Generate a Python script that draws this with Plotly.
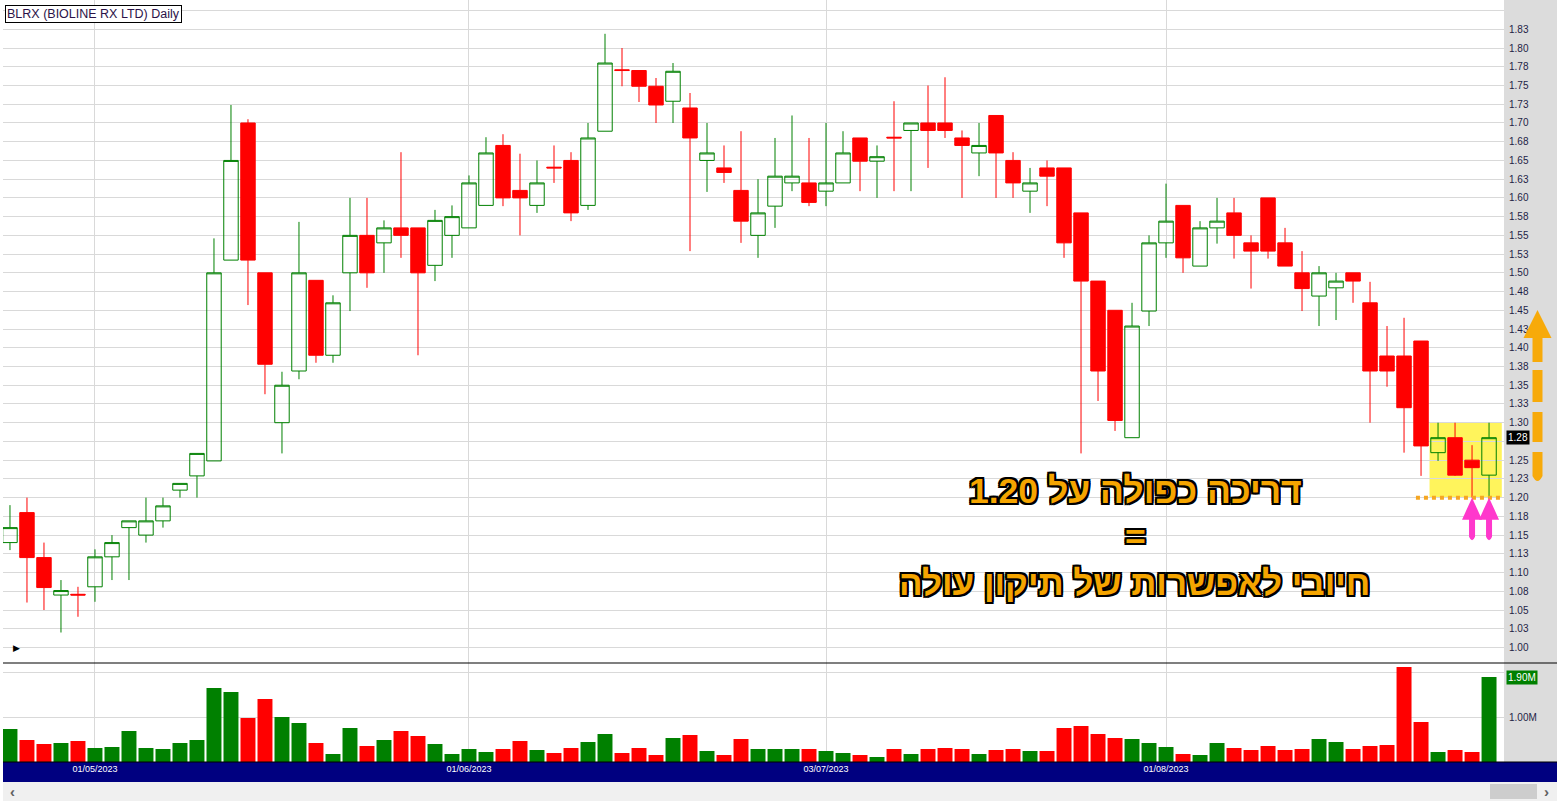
import plotly.graph_objects as go

# ---------------- data ----------------
dates = [
    "2023-04-24", "2023-04-25", "2023-04-26", "2023-04-27", "2023-04-28",
    "2023-05-01", "2023-05-02", "2023-05-03", "2023-05-04", "2023-05-05",
    "2023-05-08", "2023-05-09", "2023-05-10", "2023-05-11", "2023-05-12",
    "2023-05-15", "2023-05-16", "2023-05-17", "2023-05-18", "2023-05-19",
    "2023-05-22", "2023-05-23", "2023-05-24", "2023-05-25", "2023-05-26",
    "2023-05-30", "2023-05-31",
    "2023-06-01", "2023-06-02", "2023-06-05", "2023-06-06", "2023-06-07",
    "2023-06-08", "2023-06-09", "2023-06-12", "2023-06-13", "2023-06-14",
    "2023-06-15", "2023-06-16", "2023-06-20", "2023-06-21", "2023-06-22",
    "2023-06-23", "2023-06-26", "2023-06-27", "2023-06-28", "2023-06-29",
    "2023-06-30",
    "2023-07-03", "2023-07-05", "2023-07-06", "2023-07-07", "2023-07-10",
    "2023-07-11", "2023-07-12", "2023-07-13", "2023-07-14", "2023-07-17",
    "2023-07-18", "2023-07-19", "2023-07-20", "2023-07-21", "2023-07-24",
    "2023-07-25", "2023-07-26", "2023-07-27", "2023-07-28", "2023-07-31",
    "2023-08-01", "2023-08-02", "2023-08-03", "2023-08-04", "2023-08-07",
    "2023-08-08", "2023-08-09", "2023-08-10", "2023-08-11", "2023-08-14",
    "2023-08-15", "2023-08-16", "2023-08-17", "2023-08-18", "2023-08-21",
    "2023-08-22", "2023-08-23", "2023-08-24", "2023-08-25", "2023-08-28",
]

opens = [
    1.14, 1.18, 1.12, 1.07, 1.071, 1.081, 1.121, 1.16, 1.15, 1.169,
    1.21, 1.229, 1.249, 1.517, 1.70, 1.50, 1.30, 1.369, 1.49, 1.39,
    1.50, 1.55, 1.54, 1.56, 1.56, 1.51, 1.55, 1.56, 1.59, 1.67,
    1.61, 1.59, 1.641, 1.65, 1.59, 1.689, 1.771, 1.77, 1.749, 1.729,
    1.72, 1.65, 1.64, 1.61, 1.55, 1.589, 1.62, 1.62, 1.609, 1.62,
    1.68, 1.649, 1.681, 1.69, 1.70, 1.70, 1.68, 1.66, 1.71, 1.65,
    1.609, 1.64, 1.64, 1.58, 1.489, 1.45, 1.28, 1.449, 1.54, 1.59,
    1.509, 1.56, 1.58, 1.54, 1.60, 1.54, 1.50, 1.469, 1.48, 1.50,
    1.46, 1.389, 1.389, 1.409, 1.26, 1.28, 1.25, 1.23,
]
highs = [
    1.19, 1.20, 1.14, 1.09, 1.081, 1.131, 1.15, 1.169, 1.20, 1.20,
    1.219, 1.259, 1.546, 1.724, 1.705, 1.50, 1.368, 1.568, 1.49, 1.47,
    1.60, 1.60, 1.57, 1.661, 1.56, 1.584, 1.59, 1.63, 1.681, 1.685,
    1.659, 1.65, 1.67, 1.661, 1.70, 1.819, 1.80, 1.77, 1.76, 1.78,
    1.74, 1.70, 1.67, 1.689, 1.625, 1.68, 1.71, 1.68, 1.70, 1.689,
    1.68, 1.67, 1.729, 1.70, 1.75, 1.761, 1.69, 1.70, 1.71, 1.661,
    1.64, 1.65, 1.64, 1.58, 1.489, 1.45, 1.46, 1.55, 1.619, 1.59,
    1.569, 1.60, 1.60, 1.55, 1.60, 1.56, 1.529, 1.509, 1.50, 1.50,
    1.488, 1.429, 1.44, 1.409, 1.30, 1.30, 1.27, 1.30,
]
lows = [
    1.13, 1.06, 1.05, 1.02, 1.041, 1.061, 1.09, 1.09, 1.14, 1.16,
    1.20, 1.20, 1.249, 1.517, 1.457, 1.338, 1.259, 1.358, 1.38, 1.38,
    1.449, 1.48, 1.50, 1.52, 1.39, 1.489, 1.52, 1.56, 1.59, 1.589,
    1.55, 1.58, 1.62, 1.569, 1.584, 1.689, 1.749, 1.728, 1.70, 1.70,
    1.529, 1.608, 1.62, 1.54, 1.52, 1.56, 1.609, 1.589, 1.589, 1.62,
    1.609, 1.60, 1.609, 1.609, 1.64, 1.68, 1.60, 1.629, 1.60, 1.60,
    1.58, 1.589, 1.52, 1.259, 1.329, 1.289, 1.28, 1.429, 1.52, 1.50,
    1.509, 1.539, 1.519, 1.479, 1.519, 1.509, 1.449, 1.429, 1.437, 1.46,
    1.30, 1.348, 1.26, 1.229, 1.249, 1.229, 1.20, 1.20,
]
closes = [
    1.16, 1.12, 1.08, 1.076, 1.070, 1.121, 1.14, 1.169, 1.169, 1.189,
    1.219, 1.259, 1.50, 1.65, 1.517, 1.378, 1.35, 1.50, 1.39, 1.46,
    1.55, 1.50, 1.56, 1.55, 1.50, 1.57, 1.575, 1.62, 1.66, 1.60,
    1.60, 1.62, 1.640, 1.58, 1.68, 1.78, 1.770, 1.749, 1.724, 1.769,
    1.68, 1.66, 1.634, 1.569, 1.58, 1.629, 1.629, 1.594, 1.62, 1.66,
    1.649, 1.655, 1.680, 1.70, 1.69, 1.69, 1.67, 1.67, 1.66, 1.62,
    1.62, 1.629, 1.54, 1.489, 1.369, 1.303, 1.429, 1.54, 1.569, 1.52,
    1.56, 1.569, 1.55, 1.529, 1.529, 1.509, 1.479, 1.50, 1.489, 1.489,
    1.369, 1.369, 1.32, 1.269, 1.28, 1.23, 1.24, 1.28,
]
volumes_m = [
    0.738, 0.492, 0.403, 0.425, 0.470, 0.313, 0.336, 0.694, 0.313, 0.291,
    0.425, 0.492, 1.655, 1.566, 0.984, 1.409, 1.007, 0.872, 0.425, 0.179,
    0.761, 0.358, 0.492, 0.694, 0.582, 0.403, 0.179, 0.291, 0.224, 0.291,
    0.470, 0.268, 0.201, 0.313, 0.447, 0.626, 0.201, 0.313, 0.157, 0.537,
    0.604, 0.246, 0.157, 0.515, 0.291, 0.291, 0.291, 0.291, 0.246, 0.201,
    0.157, 0.112, 0.291, 0.179, 0.291, 0.313, 0.291, 0.179, 0.268, 0.291,
    0.246, 0.246, 0.761, 0.805, 0.626, 0.537, 0.515, 0.425, 0.336, 0.179,
    0.157, 0.425, 0.313, 0.268, 0.358, 0.268, 0.291, 0.515, 0.447, 0.291,
    0.358, 0.380, 2.125, 0.895, 0.224, 0.268, 0.224, 1.900,
]

date_tick_vals = ["2023-05-01", "2023-06-01", "2023-07-03", "2023-08-01"]
date_tick_text = ["01/05/2023", "01/06/2023", "03/07/2023", "01/08/2023"]

price_tick_vals = [
    1.000, 1.025, 1.050, 1.075, 1.100, 1.125, 1.150, 1.175, 1.200, 1.225,
    1.250, 1.275, 1.300, 1.325, 1.350, 1.375, 1.400, 1.425, 1.450, 1.475,
    1.500, 1.525, 1.550, 1.575, 1.600, 1.625, 1.650, 1.675, 1.700, 1.725,
    1.750, 1.775, 1.800, 1.825, 1.850,
]
# the 1.275 label sits under the last-price box, so it is left blank
price_tick_text = [
    "1.00", "1.03", "1.05", "1.08", "1.10", "1.13", "1.15", "1.18", "1.20", "1.23",
    "1.25", "", "1.30", "1.33", "1.35", "1.38", "1.40", "1.43", "1.45", "1.48",
    "1.50", "1.53", "1.55", "1.58", "1.60", "1.63", "1.65", "1.68", "1.70", "1.73",
    "1.75", "1.78", "1.80", "1.83", "",
]
vol_tick_vals = [1.0, 2.0]
vol_tick_text = ["1.00M", ""]

title_text = "BLRX (BIOLINE RX LTD) Daily"
last_price_text = "1.28"
last_volume_text = "1.90M"
last_price = 1.28
last_volume = 1.90
support_level = 1.20
box_top = 1.30
note_lines = ["דריכה כפולה על 1.20", "=", "חיובי לאפשרות של תיקון עולה"]

# ---------------- geometry helpers (pixel -> paper) ----------------
W, H = 1557, 801
ML, MR, MT, MB = 3, 53, 0, 39
PW, PH = W - ML - MR, H - MT - MB


def px(x):
    return (x - ML) / PW


def py(y):
    return (MT + PH - y) / PH


GREEN = "#008000"
RED = "#FF0000"
ORANGE = "#F5A500"
PINK = "#FF38CC"
GRID = "#d9d9d9"
FONT = "Liberation Sans, Arial, DejaVu Sans, sans-serif"

vol_colors = [GREEN if c >= o else RED for o, c in zip(opens, closes)]

fig = go.Figure()
fig.add_trace(go.Candlestick(
    x=dates, open=opens, high=highs, low=lows, close=closes,
    increasing=dict(line=dict(color=GREEN, width=1), fillcolor="rgba(255,255,255,0)"),
    decreasing=dict(line=dict(color=RED, width=1), fillcolor=RED),
    whiskerwidth=0, xaxis="x", yaxis="y", showlegend=False, hoverinfo="skip",
))
fig.add_trace(go.Bar(
    x=dates, y=volumes_m, marker=dict(color=vol_colors, line=dict(width=0)),
    xaxis="x", yaxis="y2", showlegend=False, hoverinfo="skip",
))

split = py(663)
fig.update_layout(
    width=W, height=H,
    margin=dict(l=ML, r=MR, t=MT, b=MB, pad=0),
    paper_bgcolor="white", plot_bgcolor="white",
    font=dict(family=FONT, size=10, color="#1e1e46"),
    showlegend=False,
    boxgap=0.15, boxgroupgap=0.0, bargap=0.12,
    xaxis=dict(
        type="category", range=[-0.41, 87.88], anchor="y2",
        tickmode="array", tickvals=date_tick_vals, ticktext=date_tick_text,
        tickfont=dict(family=FONT, size=9, color="white"),
        showgrid=True, gridcolor=GRID, gridwidth=1,
        ticks="", showline=False, zeroline=False,
        rangeslider=dict(visible=False), fixedrange=True,
    ),
    yaxis=dict(
        domain=[split, 1], range=[0.97931, 1.86411], side="right", anchor="x",
        tickmode="array", tickvals=price_tick_vals, ticktext=price_tick_text,
        tickfont=dict(family=FONT, size=10, color="#1e1e46"),
        showgrid=True, gridcolor=GRID, gridwidth=1, ticks="",
        ticklabelstandoff=4,
        showline=False, zeroline=False, fixedrange=True,
    ),
    yaxis2=dict(
        domain=[0, split], range=[0, 2.2148], side="right", anchor="x",
        tickmode="array", tickvals=vol_tick_vals, ticktext=vol_tick_text,
        tickfont=dict(family=FONT, size=10, color="#1e1e46"),
        showgrid=True, gridcolor=GRID, gridwidth=1, ticks="",
        ticklabelstandoff=4,
        showline=False, zeroline=False, fixedrange=True,
    ),
)

shapes = []
# right axis grey strip
shapes.append(dict(type="rect", xref="paper", yref="paper", x0=1, x1=px(W), y0=0, y1=py(0),
                   fillcolor="#dcdcdc", line=dict(width=0), layer="below"))
# navy date band
shapes.append(dict(type="rect", xref="paper", yref="paper", x0=0, x1=px(W), y0=py(782), y1=0,
                   fillcolor="#000080", line=dict(width=0), layer="below"))
# scrollbar
shapes.append(dict(type="rect", xref="paper", yref="paper", x0=0, x1=px(W), y0=py(801), y1=py(782),
                   fillcolor="#f0f0f0", line=dict(width=0), layer="below"))
shapes.append(dict(type="rect", xref="paper", yref="paper", x0=px(1490), x1=px(1537), y0=py(799), y1=py(784),
                   fillcolor="#cdcdcd", line=dict(width=0), layer="below"))
# separators
for yy in (split, 0):
    shapes.append(dict(type="line", xref="paper", yref="paper", x0=0, x1=px(W), y0=yy, y1=yy,
                       line=dict(color="black", width=1.2), layer="above"))
# highlight box
shapes.append(dict(type="rect", xref="x", yref="y", x0=83.5, x1=87.75, y0=support_level, y1=box_top,
                   fillcolor="#FFF45C", line=dict(width=0), layer="below"))
# dotted support
shapes.append(dict(type="line", xref="x", yref="y", x0=82.7, x1=87.8, y0=support_level, y1=support_level,
                   line=dict(color="#F5A623", width=4, dash="dot"), layer="above"))
# pink arrows
pink_path = "M0,0 L-10,-22 L-3,-22 L-3,-39 Q0,-46 3,-39 L3,-22 L10,-22 Z"
for xi in (86, 87):
    shapes.append(dict(type="path", xref="x", yref="y", xsizemode="pixel", ysizemode="pixel",
                       xanchor=xi, yanchor=support_level, path=pink_path,
                       fillcolor=PINK, line=dict(width=0), layer="above"))
# orange dashed arrow in axis strip
orange_path = ("M0,0 L14,-28 L5,-28 L5,-52 L-5,-52 L-5,-28 L-14,-28 Z "
               "M5,-60 L5,-92 L-5,-92 L-5,-60 Z "
               "M5,-102 L5,-132 L-5,-132 L-5,-102 Z "
               "M5,-142 L5,-166 Q0,-176 -5,-166 L-5,-142 Z")
shapes.append(dict(type="path", xref="paper", yref="paper", xsizemode="pixel", ysizemode="pixel",
                   xanchor=px(1537.5), yanchor=py(310), path=orange_path,
                   fillcolor="#F7AA0A", line=dict(width=0), layer="above"))
fig.update_layout(shapes=shapes)

outline = ("-2px -2px 0 #000, 2px -2px 0 #000, -2px 2px 0 #000, 2px 2px 0 #000, "
           "0 -2px 0 #000, 0 2px 0 #000, -2px 0 0 #000, 2px 0 0 #000")
ann = []
ann.append(dict(text=title_text, xref="paper", yref="paper", x=px(5), y=py(5),
                xanchor="left", yanchor="top", showarrow=False,
                font=dict(family=FONT, size=12.5, color="#2b1248"),
                bgcolor="white", bordercolor="black", borderwidth=1, borderpad=1))
ann.append(dict(text=last_price_text, xref="paper", yref="y", x=px(1506), y=last_price,
                xanchor="left", yanchor="middle", showarrow=False,
                font=dict(family=FONT, size=10, color="white"), bgcolor="black", borderpad=1))
ann.append(dict(text=last_volume_text, xref="paper", yref="y2", x=px(1506), y=last_volume,
                xanchor="left", yanchor="middle", showarrow=False,
                font=dict(family=FONT, size=10, color="white"), bgcolor=GREEN, borderpad=1))
for txt, cx, cy, fs in zip(note_lines, (1135, 1135, 1134), (491, 537, 582), (35.5, 35.5, 35)):
    ann.append(dict(text=txt, xref="paper", yref="paper", x=px(cx), y=py(cy),
                    xanchor="center", yanchor="middle", showarrow=False,
                    font=dict(family=FONT, size=fs, color=ORANGE, weight="bold", shadow=outline)))
ann.append(dict(text="▶", xref="paper", yref="paper", x=px(16), y=py(648),
                xanchor="center", yanchor="middle", showarrow=False,
                font=dict(size=9, color="black")))
ann.append(dict(text="<b>‹</b>", xref="paper", yref="paper", x=px(12), y=py(791),
                xanchor="center", yanchor="middle", showarrow=False,
                font=dict(size=15, color="#606060")))
ann.append(dict(text="<b>›</b>", xref="paper", yref="paper", x=px(1546), y=py(791),
                xanchor="center", yanchor="middle", showarrow=False,
                font=dict(size=15, color="#606060")))
fig.update_layout(annotations=ann)

fig.write_html(
    "out.html",
    config={"displayModeBar": False},
    post_script="document.body.style.margin='0';document.body.style.overflow='hidden';",
)
